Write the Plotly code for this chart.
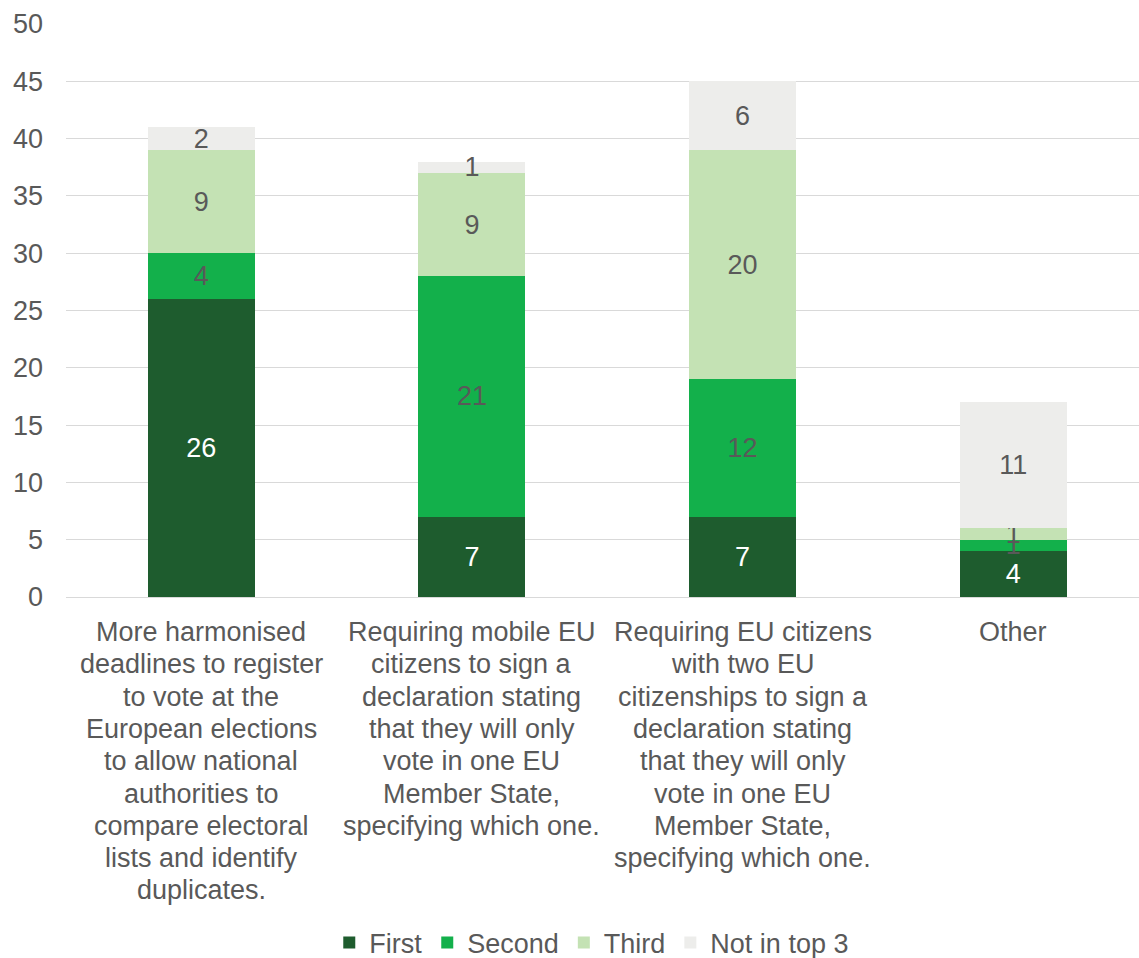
import plotly.graph_objects as go

categories = [
    "More harmonised<br>deadlines to register<br>to vote at the<br>European elections<br>to allow national<br>authorities to<br>compare electoral<br>lists and identify<br>duplicates.",
    "Requiring mobile EU<br>citizens to sign a<br>declaration stating<br>that they will only<br>vote in one EU<br>Member State,<br>specifying which one.",
    "Requiring EU citizens<br>with two EU<br>citizenships to sign a<br>declaration stating<br>that they will only<br>vote in one EU<br>Member State,<br>specifying which one.",
    "Other",
]
first = [26, 7, 7, 4]
second = [4, 21, 12, 1]
third = [9, 9, 20, 1]
not_top3 = [2, 1, 6, 11]

series = [
    ("First", first, "#1E5C2E", "#FFFFFF"),
    ("Second", second, "#13B04B", "#595959"),
    ("Third", third, "#C4E2B4", "#595959"),
    ("Not in top 3", not_top3, "#EDEDEB", "#595959"),
]

x_pos = list(range(len(categories)))
FONT = "Liberation Sans, Arial, sans-serif"
FS = 27
GREY = "#595959"

fig = go.Figure()
for name, vals, color, tcolor in series:
    fig.add_trace(go.Bar(
        name=name,
        x=x_pos,
        y=vals,
        width=0.395,
        marker=dict(color=color, line=dict(width=0)),
        text=[str(v) for v in vals],
        textposition="inside",
        insidetextanchor="middle",
        constraintext="none",
        textangle=0,
        textfont=dict(family=FONT, size=FS, color=tcolor),
        hoverinfo="skip",
    ))

# Category labels: one annotation per line for tighter line spacing
LINE_GAP = 32.3
FIRST_LINE = 35
for i, label in enumerate(categories):
    for k, line in enumerate(label.split("<br>")):
        fig.add_annotation(
            x=i, xref="x",
            y=0, yref="paper",
            yanchor="middle",
            yshift=-(FIRST_LINE + k * LINE_GAP),
            text=line,
            showarrow=False,
            font=dict(family=FONT, size=FS, color=GREY),
        )

fig.update_layout(
    barmode="stack",
    width=1139,
    height=958,
    margin=dict(l=66, r=0, t=24, b=361, autoexpand=False),
    paper_bgcolor="white",
    plot_bgcolor="white",
    font=dict(family=FONT, size=FS, color=GREY),
    xaxis=dict(
        range=[-0.5, 3.465],
        tickvals=x_pos,
        showticklabels=False,
        showgrid=False,
        showline=False,
        ticks="",
        zeroline=False,
    ),
    yaxis=dict(
        range=[0, 50],
        dtick=5,
        tickfont=dict(family=FONT, size=FS, color=GREY),
        gridcolor="#D9D9D9",
        gridwidth=1,
        zeroline=True,
        zerolinecolor="#D9D9D9",
        zerolinewidth=1,
        showline=False,
        ticks="",
        ticklabelstandoff=22,
    ),
    legend=dict(
        orientation="h",
        x=0.49,
        xanchor="center",
        yref="container",
        y=0.0157,
        yanchor="middle",
        font=dict(family=FONT, size=FS, color=GREY),
        traceorder="normal",
        itemwidth=30,
    ),
)

fig.write_html("out.html")
